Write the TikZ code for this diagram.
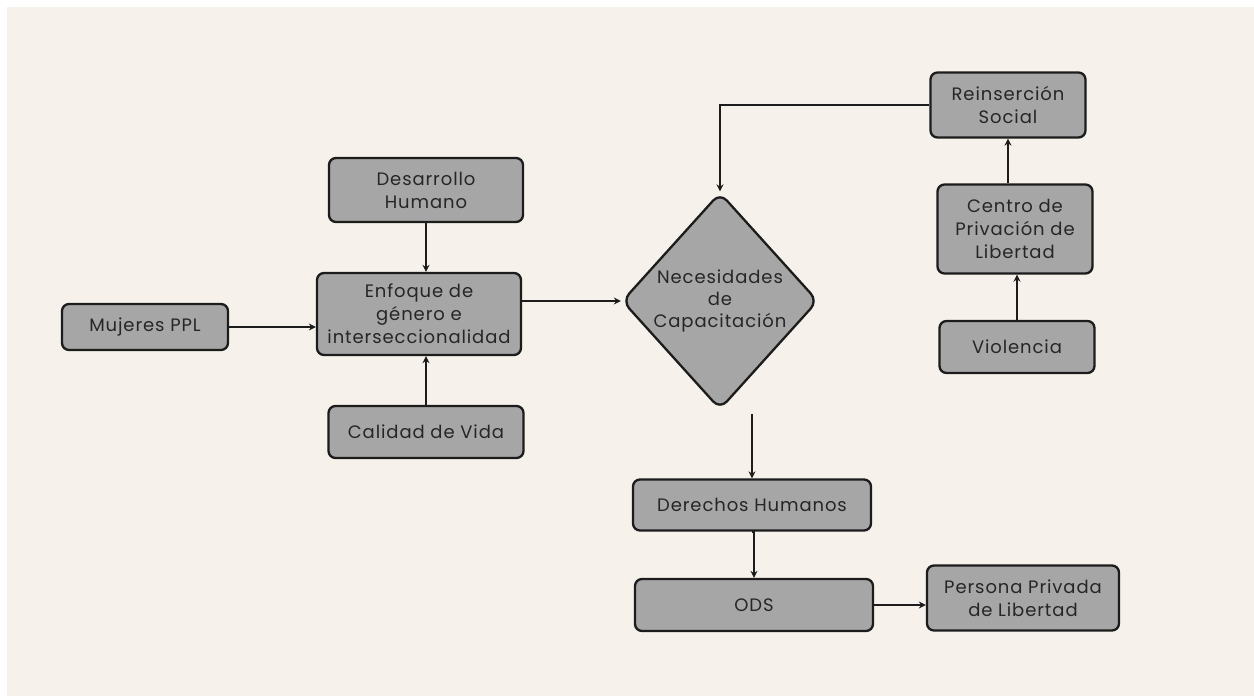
\documentclass[tikz,border=0pt]{standalone}
\usepackage{fontspec}
\setmainfont{Poppins}[LetterSpace=5]
\usetikzlibrary{arrows.meta,shapes.geometric,calc}
\definecolor{bg}{HTML}{F6F1EA}
\definecolor{boxgray}{HTML}{A6A6A6}
\definecolor{edge}{HTML}{1C1C1C}
\definecolor{txt}{HTML}{262626}
\begin{document}
\begin{tikzpicture}[x=1pt,y=-1pt,
  lbl/.style={align=center, text=txt, font=\fontsize{18}{23}\selectfont, inner sep=0pt},
  box/.style={lbl, draw=edge, line width=2.3pt, fill=boxgray, rounded corners=7pt},
  arr/.style={draw=edge, line width=2.3pt, -{Stealth[length=7pt,width=7pt]}}]
\useasboundingbox (0,0) rectangle (1254,696);
\fill[white] (0,0) rectangle (1254,696);
\fill[bg] (7,7) rectangle (1254,696);
% left group
\node[box, minimum width=166pt, minimum height=46pt] (muj) at (145,327) {Mujeres PPL};
\node[box, minimum width=194pt, minimum height=64pt] (des) at (426,190) {Desarrollo\\Humano};
\node[box, minimum width=204pt, minimum height=82pt] (enf) at (419,314) {Enfoque de\\género e\\interseccionalidad};
\node[box, minimum width=195pt, minimum height=52pt] (cal) at (426,432) {Calidad de Vida};
% diamond
\node[diamond, draw=edge, line width=2.3pt, fill=boxgray, rounded corners=10pt, minimum width=196pt, minimum height=217pt, inner sep=0pt] (dia) at (720,301) {};
\node[lbl, font=\fontsize{18}{22}\selectfont] (diat) at (dia.center) {Necesidades\\de\\Capacitación};
% right group
\node[box, minimum width=155pt, minimum height=65pt] (rei) at (1008,105) {Reinserción\\Social};
\node[box, minimum width=155pt, minimum height=89pt] (cen) at (1015,229) {Centro de\\Privación de\\Libertad};
\node[box, minimum width=155pt, minimum height=52pt] (vio) at (1017,347) {Violencia};
% bottom group
\node[box, minimum width=238pt, minimum height=51pt] (der) at (752,505) {Derechos Humanos};
\node[box, minimum width=238pt, minimum height=52pt] (ods) at (754,605) {ODS};
\node[box, minimum width=192pt, minimum height=65pt] (per) at (1023,598) {Persona Privada\\de Libertad};
% connectors
\draw[arr] (muj.east) -- (muj.east -| enf.west);
\draw[arr] (des.south) -- (des.south |- enf.north);
\draw[arr] (cal.north) -- (cal.north |- enf.south);
\draw[arr] (enf.east |- dia.west) -- (dia.west);
\draw[arr, rounded corners=0pt] (rei.west) -| (dia.north);
\draw[arr] (vio.north) -- (vio.north |- cen.south);
\draw[arr] (rei.south |- cen.north) -- (rei.south);
\coordinate (dout) at ($(der.north |- dia.south)+(0,3)$);
\draw[arr] (dout) -- (der.north);
\draw[arr] (der.south) -- (der.south -| ods.north) -- (ods.north);
\draw[arr] (ods.east) -- (ods.east -| per.west);
\end{tikzpicture}
\end{document}
